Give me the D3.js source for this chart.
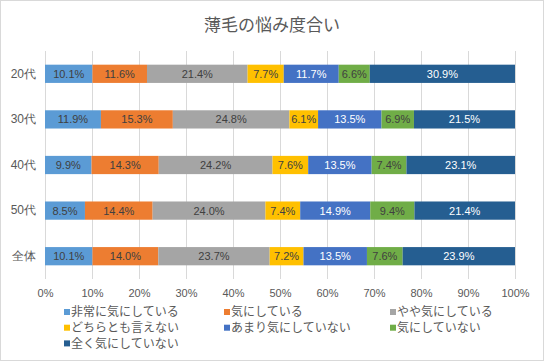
<!DOCTYPE html>
<html>
<head>
<meta charset="utf-8">
<script src="https://cdn.jsdelivr.net/npm/d3@7"></script>
<style>
  body { margin: 0; background: #fff; }
  svg { font-family: "Noto Sans CJK JP", "Noto Sans", sans-serif; }
</style>
</head>
<body>
<svg id="chart" width="544" height="361"></svg>
<script>
// categories (top to bottom)
const ages = ["20代", "30代", "40代", "50代", "全体"];
// series names in stack order
const answers = ["非常に気にしている", "気にしている", "やや気にしている", "どちらとも言えない",
    "あまり気にしていない", "気にしていない", "全く気にしていない"];
// one array per series, values in % per category
const veryMuch  = [10.1, 11.9, 9.9, 8.5, 10.1];
const care      = [11.6, 15.3, 14.3, 14.4, 14.0];
const somewhat  = [21.4, 24.8, 24.2, 24.0, 23.7];
const neutral   = [7.7, 6.1, 7.6, 7.4, 7.2];
const notMuch   = [11.7, 13.5, 13.5, 14.9, 13.5];
const notCare   = [6.6, 6.9, 7.4, 9.4, 7.6];
const notAtAll  = [30.9, 21.5, 23.1, 21.4, 23.9];
const xTicks = [0, 10, 20, 30, 40, 50, 60, 70, 80, 90, 100];

const series = [veryMuch, care, somewhat, neutral, notMuch, notCare, notAtAll];
const colors = ["#5B9BD5", "#ED7D31", "#A5A5A5", "#FFC000", "#4472C4", "#70AD47", "#255E91"];
const labelColors = ["#404040", "#404040", "#404040", "#404040", "#ffffff", "#404040", "#ffffff"];

const svg = d3.select("#chart");

// chart border
svg.append("rect")
    .attr("x", 0.5).attr("y", 0.5)
    .attr("width", 543).attr("height", 360)
    .attr("fill", "#fff")
    .attr("stroke", "#d9d9d9");

// title
svg.append("text")
    .attr("x", 272).attr("y", 31)
    .attr("text-anchor", "middle")
    .attr("font-size", 17)
    .attr("fill", "#595959")
    .text("薄毛の悩み度合い");

const plot = {left: 45, right: 515, top: 51, bottom: 279};

const x = d3.scaleLinear()
    .domain([0, 100])
    .range([plot.left, plot.right]);

const y = d3.scaleBand()
    .domain(ages)
    .range([plot.top, plot.bottom])
    .paddingInner(0.6)
    .paddingOuter(0.3);

// gridlines
svg.append("g")
    .selectAll("line")
    .data(xTicks)
    .enter()
    .append("line")
        .attr("x1", d => x(d) + 0.5).attr("x2", d => x(d) + 0.5)
        .attr("y1", plot.top).attr("y2", plot.bottom)
        .attr("stroke", "#d9d9d9")
        .attr("stroke-width", 1);

// x axis labels
const xAxis = svg.append("g")
    .attr("transform", `translate(0, ${plot.bottom})`)
    .call(d3.axisBottom(x).tickValues(xTicks).tickFormat(d => d + "%").tickSize(0).tickPadding(10));
xAxis.select(".domain").remove();
xAxis.selectAll("text")
    .attr("font-size", 11)
    .attr("fill", "#595959")
    .style("font-family", "'Liberation Sans', 'Noto Sans', sans-serif");

// y axis labels
const yAxis = svg.append("g")
    .attr("transform", `translate(${plot.left}, 0)`)
    .call(d3.axisLeft(y).tickSize(0).tickPadding(9));
yAxis.select(".domain").remove();
yAxis.selectAll("text")
    .attr("font-size", 12)
    .attr("fill", "#595959");

// stacked rows
const rows = ages.map((age, i) => {
    const row = {age: age};
    answers.forEach((a, j) => { row[a] = series[j][i]; });
    return row;
});
const stacked = d3.stack().keys(answers)(rows);

const layer = svg.append("g")
    .selectAll("g")
    .data(stacked)
    .enter()
    .append("g")
        .attr("fill", (d, i) => colors[i]);

layer.selectAll("rect")
    .data(d => d)
    .enter()
    .append("rect")
        .attr("x", d => x(d[0]))
        .attr("y", d => y(d.data.age))
        .attr("width", d => x(d[1]) - x(d[0]))
        .attr("height", y.bandwidth());

layer.each(function(s, i) {
    d3.select(this).selectAll("text")
        .data(s)
        .enter()
        .append("text")
            .attr("x", d => (x(d[0]) + x(d[1])) / 2)
            .attr("y", d => y(d.data.age) + y.bandwidth() / 2)
            .attr("dy", "0.36em")
            .attr("text-anchor", "middle")
            .attr("font-size", 11)
            .style("font-family", "'Liberation Sans', 'Noto Sans', sans-serif")
            .attr("fill", labelColors[i])
            .text(d => (d[1] - d[0]).toFixed(1) + "%");
});

// legend
const legendX = [64, 224, 390];
const legend = svg.append("g")
    .selectAll("g")
    .data(answers)
    .enter()
    .append("g")
        .attr("transform", (d, i) => `translate(${legendX[i % 3]}, ${312 + Math.floor(i / 3) * 15.7})`);
legend.append("rect")
    .attr("x", 0).attr("y", -3)
    .attr("width", 6).attr("height", 6)
    .attr("fill", (d, i) => colors[i]);
legend.append("text")
    .attr("x", 7).attr("y", 0)
    .attr("dy", "0.36em")
    .attr("font-size", 12)
    .attr("fill", "#595959")
    .text(d => d);
</script>
</body>
</html>
